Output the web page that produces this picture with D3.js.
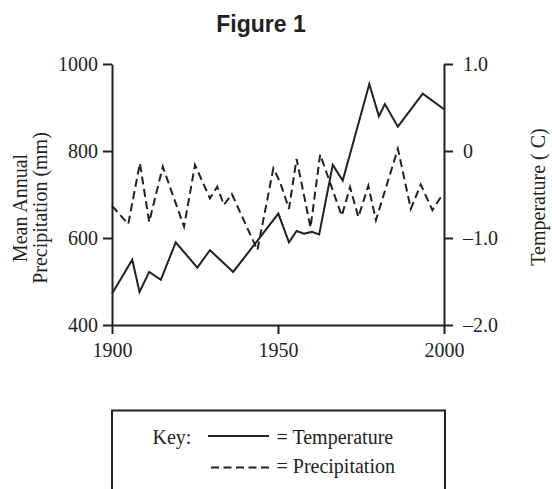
<!DOCTYPE html>
<html>
<head>
<meta charset="utf-8">
<script src="https://cdn.jsdelivr.net/npm/d3@7"></script>
<style>
  html, body { margin: 0; padding: 0; background: #fff; }
  svg { display: block; }
</style>
</head>
<body>
<svg id="chart" width="552" height="489"></svg>
<script>
// ---- Data ----
const tempYears = [1900, 1906.1, 1908.3, 1911.2, 1914.7, 1919.2, 1925.7, 1929.5, 1936.5, 1950.1, 1953.3, 1955.6, 1957.8, 1960.2, 1962.4, 1966.5, 1969.5, 1977.5, 1980.4, 1982.2, 1986.1, 1993.6, 2000];
const tempValues = [-1.64, -1.25, -1.62, -1.39, -1.48, -1.05, -1.34, -1.14, -1.39, -0.72, -1.05, -0.92, -0.95, -0.93, -0.96, -0.16, -0.34, 0.77, 0.40, 0.54, 0.28, 0.66, 0.48];

const precipYears = [1900, 1904.9, 1908.4, 1911.2, 1915.3, 1921.7, 1925, 1929.5, 1931.7, 1933.7, 1936.1, 1943.8, 1948.6, 1950.6, 1953.3, 1955.6, 1959.8, 1962.7, 1969.2, 1971.7, 1974.2, 1977.2, 1979.5, 1986.1, 1990, 1993, 1996.5, 1999.3];
const precipValues = [674, 632, 772, 637, 764, 626, 768, 691, 718, 676, 701, 572, 760, 729, 667, 782, 624, 792, 651, 717, 648, 720, 641, 805, 667, 723, 664, 697];

const xTicks = [1900, 1950, 2000];
const precipTicks = [400, 600, 800, 1000];
const tempTicks = [-2, -1, 0, 1];
const tempTickLabels = ["\u20132.0", "\u20131.0", "0", "1.0"];

const titleText = "Figure 1";
const leftTitle = ["Mean Annual", "Precipitation (mm)"];
const rightTitle = "Temperature ( C)";
const keyLabel = "Key:";
const legendLabels = ["= Temperature", "= Precipitation"];

// ---- Layout ----
const ink = "#231f20";
const serif = "'Liberation Serif', 'Times New Roman', serif";
const sans = "'Liberation Sans', Arial, Helvetica, sans-serif";
const dash = "8,4.5";

const svg = d3.select("#chart");

const x = d3.scaleLinear().domain([1900, 2000]).range([112, 444]);
const yP = d3.scaleLinear().domain([400, 1000]).range([325, 64]);
const yT = d3.scaleLinear().domain([-2, 1]).range([325, 64]);

// Title
svg.append("text")
  .attr("x", 261).attr("y", 31.5)
  .attr("text-anchor", "middle")
  .attr("font-family", sans).attr("font-weight", "bold").attr("font-size", 23)
  .attr("fill", ink)
  .text(titleText);

function styleAxis(g) {
  g.selectAll(".domain").attr("stroke", ink).attr("stroke-width", 2);
  g.selectAll(".tick line").attr("stroke", ink).attr("stroke-width", 2);
  g.selectAll(".tick text").attr("fill", ink).attr("font-family", serif).attr("font-size", 20);
}

// Bottom axis
svg.append("g")
  .attr("transform", "translate(0,325)")
  .call(d3.axisBottom(x).tickValues(xTicks).tickFormat(d3.format("d")).tickSize(9).tickSizeOuter(0).tickPadding(9))
  .call(styleAxis);

// Left axis
svg.append("g")
  .attr("transform", "translate(112,0)")
  .call(d3.axisLeft(yP).tickValues(precipTicks).tickFormat(d3.format("d")).tickSize(9).tickSizeOuter(0).tickPadding(5))
  .call(styleAxis);

// Right axis
svg.append("g")
  .attr("transform", "translate(444,0)")
  .call(d3.axisRight(yT).tickValues(tempTicks)
    .tickFormat((d, i) => tempTickLabels[tempTicks.indexOf(d)])
    .tickSize(9).tickSizeOuter(0).tickPadding(10))
  .call(styleAxis);

// Lines
const tempData = tempYears.map((yr, i) => [yr, tempValues[i]]);
const precipData = precipYears.map((yr, i) => [yr, precipValues[i]]);

svg.append("path")
  .datum(precipData)
  .attr("fill", "none").attr("stroke", ink).attr("stroke-width", 2)
  .attr("stroke-dasharray", dash)
  .attr("stroke-linejoin", "miter")
  .attr("d", d3.line().x(d => x(d[0])).y(d => yP(d[1])));

svg.append("path")
  .datum(tempData)
  .attr("fill", "none").attr("stroke", ink).attr("stroke-width", 2)
  .attr("stroke-linejoin", "miter")
  .attr("d", d3.line().x(d => x(d[0])).y(d => yT(d[1])));

// Left axis title (two lines, rotated)
const lt = svg.append("text")
  .attr("transform", "translate(27,208) rotate(-90)")
  .attr("text-anchor", "middle")
  .attr("font-family", serif).attr("font-size", 20).attr("fill", ink);
lt.append("tspan").attr("x", 0).attr("y", 0).text(leftTitle[0]);
lt.append("tspan").attr("x", 0).attr("y", 19.5).text(leftTitle[1]);

// Right axis title
svg.append("text")
  .attr("transform", "translate(545,197) rotate(-90)")
  .attr("text-anchor", "middle")
  .attr("font-family", serif).attr("font-size", 20).attr("fill", ink)
  .text(rightTitle);

// Legend box
const leg = svg.append("g");
leg.append("path")
  .attr("d", "M112,492 L112,410.5 L445,410.5 L445,492")
  .attr("fill", "none").attr("stroke", ink).attr("stroke-width", 2);

leg.append("text")
  .attr("x", 152.5).attr("y", 444)
  .attr("font-family", serif).attr("font-size", 20).attr("fill", ink)
  .text(keyLabel);

leg.append("line")
  .attr("x1", 208).attr("x2", 269).attr("y1", 436).attr("y2", 436)
  .attr("stroke", ink).attr("stroke-width", 2);
leg.append("line")
  .attr("x1", 211).attr("x2", 269).attr("y1", 467.5).attr("y2", 467.5)
  .attr("stroke", ink).attr("stroke-width", 2).attr("stroke-dasharray", dash);

leg.append("text")
  .attr("x", 276.5).attr("y", 444)
  .attr("font-family", serif).attr("font-size", 20).attr("fill", ink)
  .text(legendLabels[0]);
leg.append("text")
  .attr("x", 276.5).attr("y", 473)
  .attr("font-family", serif).attr("font-size", 20).attr("fill", ink)
  .text(legendLabels[1]);
</script>
</body>
</html>
